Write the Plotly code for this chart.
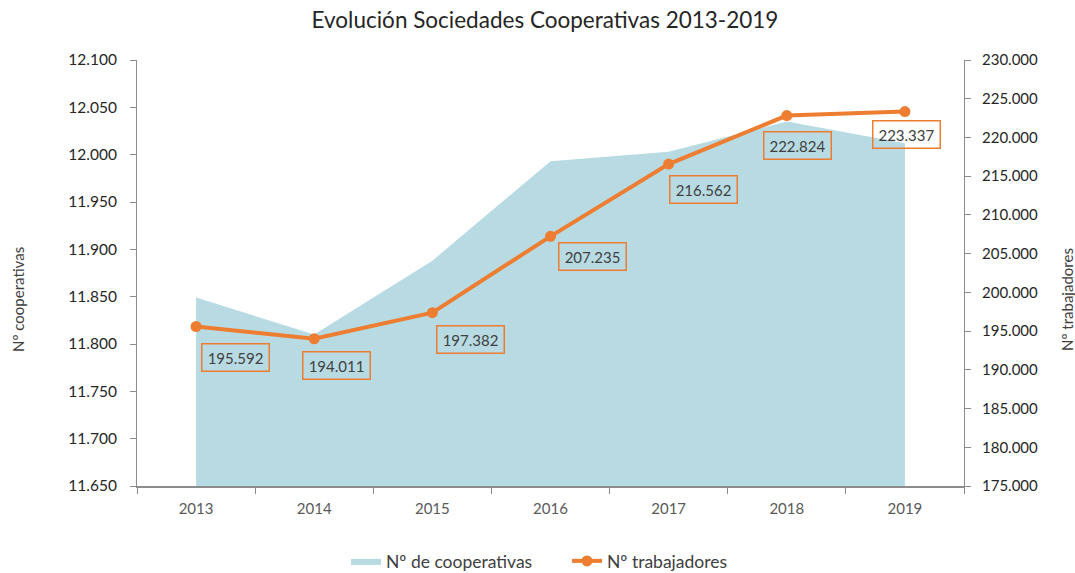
import plotly.graph_objects as go

years = ["2013", "2014", "2015", "2016", "2017", "2018", "2019"]
cooperativas = [11849, 11810, 11888, 11993, 12003, 12035, 12012]
trabajadores = [195592, 194011, 197382, 207235, 216562, 222824, 223337]
label_dx = [39, 22, 38, 42, 35, 11, 2]
label_dy = [-31, -27, -27, -20, -25, -30, -23]

FONT = "Lato"
ORANGE = "#ED7D31"
AREA = "#B8DBE3"
AXIS = "#8C8C8C"
TICK = "#595959"

W, H = 1075, 573
L, R, T, B = 137, 964, 60, 486
PW, PH = R - L, B - T

fig = go.Figure()
fig.add_trace(go.Scatter(
    x=years, y=cooperativas, name="Nº de cooperativas",
    mode="lines", fill="tozeroy", fillcolor=AREA,
    line=dict(width=0, color=AREA), yaxis="y", hoverinfo="skip",
))
fig.add_trace(go.Scatter(
    x=years, y=trabajadores, name="Nº trabajadores",
    mode="lines+markers", line=dict(color=ORANGE, width=4),
    marker=dict(color=ORANGE, size=11), yaxis="y2",
))

for i, (v, dx, dy) in enumerate(zip(trabajadores, label_dx, label_dy)):
    fig.add_annotation(
        x=i, y=v, xref="x", yref="y2", showarrow=False,
        text=f"{v:,}".replace(",", "."), xshift=dx, yshift=dy,
        font=dict(family=FONT, size=15, color="#404040"),
        bordercolor=ORANGE, borderwidth=1.5, borderpad=3, width=60, height=20,
    )

fig.add_annotation(x=(18 - L) / PW, y=(B - 300) / PH, xref="paper", yref="paper",
                   xanchor="center", yanchor="middle",
                   text="Nº cooperativas", showarrow=False, textangle=-90,
                   font=dict(family=FONT, size=15, color="#404040"))
fig.add_annotation(x=(1067 - L) / PW, y=(B - 300) / PH, xref="paper", yref="paper",
                   xanchor="center", yanchor="middle",
                   text="Nº trabajadores", showarrow=False, textangle=-90,
                   font=dict(family=FONT, size=15, color="#404040"))

fig.update_layout(
    width=W, height=H,
    margin=dict(l=L, r=W - R, t=T, b=H - B),
    paper_bgcolor="white", plot_bgcolor="white",
    separators=",.",
    title=dict(text="Evolución Sociedades Cooperativas 2013-2019", x=545 / W, xanchor="center",
               y=1 - 20 / H, yanchor="middle",
               font=dict(family=FONT, size=22.5, color="#262626")),
    font=dict(family=FONT, color=TICK),
    showlegend=True,
    legend=dict(orientation="h", x=567 / W, xanchor="center", xref="container",
                yref="container", y=(H - 561) / H, yanchor="middle",
                font=dict(family=FONT, size=17.5, color="#404040"),
                entrywidth=176, traceorder="normal"),
    xaxis=dict(type="category", range=[-0.5, 6.5], showgrid=False, automargin=False,
               showline=True, linecolor=AXIS, linewidth=2,
               ticks="outside", tickson="boundaries", ticklen=6, tickcolor=AXIS,
               tickfont=dict(family=FONT, size=15, color=TICK), ticklabelstandoff=8),
    yaxis=dict(range=[11650, 12100], dtick=50, tickformat=",d", showgrid=False, automargin=False,
               showline=True, linecolor=AXIS, linewidth=1,
               ticks="outside", ticklen=6, tickcolor=AXIS,
               tickfont=dict(family=FONT, size=15.5, color="#262626"), ticklabelstandoff=10),
    yaxis2=dict(range=[175000, 230000], dtick=5000, tickformat=",d", overlaying="y", side="right",
                showgrid=False, showline=True, linecolor=AXIS, linewidth=1, automargin=False,
                ticks="outside", ticklen=6, tickcolor=AXIS,
                tickfont=dict(family=FONT, size=15, color="#262626"), ticklabelstandoff=8),
)

fig.write_html("out.html", config={"displayModeBar": False},
               post_script="document.body.style.margin='0';document.body.style.overflow='hidden';")
